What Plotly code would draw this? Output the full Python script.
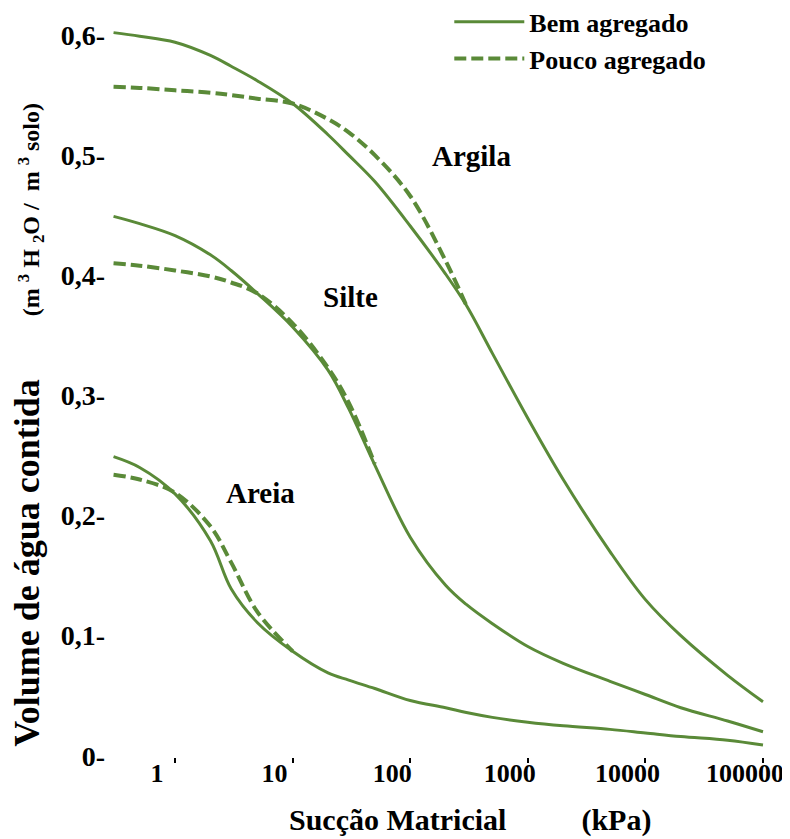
import math
import plotly.graph_objects as go

# Suction (kPa) sample points
suction = [0.3, 0.5, 1, 2, 3, 5, 10, 20, 30, 50, 100, 200, 300, 500,
           1000, 2000, 5000, 10000, 20000, 50000, 100000]

# Well aggregated (solid)
argila_bem = [0.602, 0.599, 0.594, 0.583, 0.574, 0.562, 0.543, 0.517, 0.500, 0.478,
              0.441, 0.401, 0.375, 0.335, 0.281, 0.230, 0.170, 0.130, 0.100, 0.067, 0.045]
silte_bem = [0.449, 0.443, 0.433, 0.417, 0.404, 0.385, 0.357, 0.321, 0.289, 0.242,
             0.182, 0.142, 0.126, 0.110, 0.091, 0.077, 0.062, 0.051, 0.040, 0.029, 0.020]
areia_bem = [0.249, 0.240, 0.218, 0.179, 0.139, 0.111, 0.087, 0.069, 0.063, 0.056,
             0.046, 0.040, 0.036, 0.032, 0.028, 0.025, 0.022, 0.019, 0.016, 0.013, 0.009]

# Poorly aggregated (dashed) - only until it merges with the solid curve
argila_pouco = [0.557, 0.556, 0.554, 0.552, 0.550, 0.547, 0.543, 0.530, 0.519, 0.500,
                0.466, 0.412, 0.375]
silte_pouco = [0.410, 0.408, 0.404, 0.399, 0.394, 0.385, 0.360, 0.323, 0.294, 0.243]
areia_pouco = [0.234, 0.230, 0.219, 0.191, 0.161, 0.120, 0.087]

x_ticks = [1, 10, 100, 1000, 10000, 100000]
x_ticktext = ["1", "10", "100", "1000", "10000", "100000"]
y_ticks = [0, 0.1, 0.2, 0.3, 0.4, 0.5, 0.6]
y_ticktext = ["0-", "0,1-", "0,2-", "0,3-", "0,4-", "0,5-", "0,6-"]

soil_labels = ["Argila", "Silte", "Areia"]
soil_label_x = [335, 30.8, 5.3]          # kPa
soil_label_y = [0.499, 0.382, 0.219]

GREEN = "#5a8a38"
FONT = "Liberation Serif"

fig = go.Figure()

solids = [argila_bem, silte_bem, areia_bem]
dashes = [argila_pouco, silte_pouco, areia_pouco]

for i, ys in enumerate(solids):
    fig.add_trace(go.Scatter(
        x=suction, y=ys, mode="lines", name="Bem agregado",
        line=dict(color=GREEN, width=3, shape="spline", smoothing=1.0),
        showlegend=(i == 0), legendgroup="bem"))

for i, ys in enumerate(dashes):
    fig.add_trace(go.Scatter(
        x=suction[:len(ys)], y=ys, mode="lines", name="Pouco agregado",
        line=dict(color=GREEN, width=4, dash="12px,5px", shape="spline", smoothing=1.0),
        showlegend=(i == 0), legendgroup="pouco"))

for lab, lx, ly in zip(soil_labels, soil_label_x, soil_label_y):
    fig.add_annotation(x=math.log10(lx), y=ly, xref="x", yref="y", text=lab,
                       showarrow=False,
                       font=dict(family=FONT, size=29, color="black", weight="bold"))

# Y axis title (rotated, mixed sizes)
fig.add_annotation(
    xref="paper", yref="paper", x=-0.127, y=0.445,
    text=("Volume de água contida" + "\u00a0" * 7 +
          "<span style='font-size:24px'>(m\u00a0<sup>3</sup>\u00a0H\u00a0<sub>2</sub>O\u00a0/"
          "\u00a0\u00a0m\u00a0<sup>3</sup>\u00a0solo)</span>"),
    textangle=-90, showarrow=False, xanchor="center", yanchor="middle",
    font=dict(family=FONT, size=36, color="black", weight="bold"))

# X axis title
fig.add_annotation(
    xref="paper", yref="paper", x=0.55, y=-0.084,
    text="Sucção Matricial" + "\u00a0" * 10 + "(kPa)",
    showarrow=False, xanchor="center", yanchor="middle",
    font=dict(family=FONT, size=30, color="black", weight="bold"))

fig.update_xaxes(
    type="log", range=[-0.553, 5.017],
    tickvals=x_ticks, ticktext=x_ticktext,
    ticks="outside", ticklen=5, tickwidth=2, tickcolor="black",
    showgrid=False, zeroline=False, showline=False,
    ticklabelshift=-18, ticklabelstandoff=-12, ticklabeloverflow="allow",
    tickfont=dict(family=FONT, size=26, color="black", weight="bold"))

fig.update_yaxes(
    range=[-0.001, 0.62],
    tickvals=y_ticks, ticktext=y_ticktext,
    ticks="", showgrid=False, zeroline=False, showline=False,
    ticklabelstandoff=4,
    tickfont=dict(family=FONT, size=28, color="black", weight="bold"))

fig.update_layout(
    width=782, height=831,
    margin=dict(l=102, r=25, t=3, b=82, autoexpand=False),
    paper_bgcolor="white", plot_bgcolor="white",
    legend=dict(x=0.518, y=1.017, xanchor="left", yanchor="top",
                bgcolor="rgba(0,0,0,0)", itemwidth=70,
                font=dict(family=FONT, size=26, color="black", weight="bold"),
                tracegroupgap=0),
)

fig.write_html("out.html")
